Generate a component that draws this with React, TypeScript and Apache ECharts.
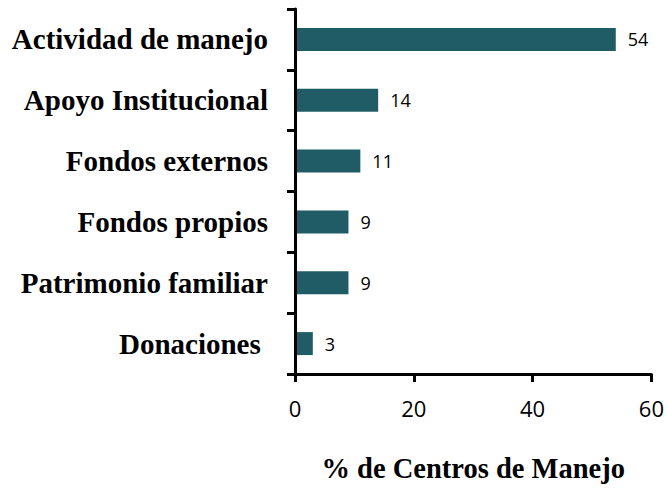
import React, { useEffect, useRef } from "react";
import * as echarts from "echarts";

const categories = [
  "Actividad de manejo",
  "Apoyo Institucional",
  "Fondos externos",
  "Fondos propios",
  "Patrimonio familiar",
  "Donaciones ",
];
const values = [54, 14, 11, 9, 9, 3];
const xTicks = [0, 20, 40, 60];
const xTitle = "% de Centros de Manejo";

export default function App() {
  const ref = useRef<HTMLDivElement>(null);
  useEffect(() => {
    const chart = echarts.init(ref.current!, null, { renderer: "svg" });
    chart.setOption({
      animation: false,
      backgroundColor: "#ffffff",
      grid: { left: 295, right: 15, top: 9, bottom: 106, containLabel: false },
      xAxis: {
        type: "value",
        min: xTicks[0],
        max: xTicks[xTicks.length - 1],
        interval: 20,
        splitLine: { show: false },
        axisLine: { show: true, lineStyle: { color: "#000", width: 3 } },
        axisTick: { show: true, length: 8, lineStyle: { color: "#000", width: 3 } },
        axisLabel: {
          color: "#000",
          fontFamily: "Open Sans",
          fontSize: 22,
          margin: 23,
        },
        name: xTitle,
        nameLocation: "middle",
        nameGap: 80,
        nameTextStyle: {
          color: "#000",
          fontFamily: "Liberation Serif",
          fontWeight: "bold",
          fontSize: 28.5,
        },
        z: 10,
      },
      yAxis: {
        type: "category",
        data: categories,
        inverse: true,
        axisLine: { show: true, lineStyle: { color: "#000", width: 3 } },
        axisTick: { show: true, length: 8, lineStyle: { color: "#000", width: 3 } },
        axisLabel: {
          color: "#000",
          fontFamily: "Liberation Serif",
          fontWeight: "bold",
          fontSize: 29,
          margin: 27,
        },
        z: 10,
      },
      series: [
        {
          type: "bar",
          data: values,
          barWidth: 23,
          itemStyle: { color: "#1f5c66" },
          label: {
            show: true,
            position: "right",
            distance: 12,
            color: "#000",
            fontFamily: "Open Sans",
            fontSize: 18,
          },
        },
      ],
    });
    return () => chart.dispose();
  }, []);
  return (
    <div
      ref={ref}
      style={{ position: "fixed", left: 0, top: 0, width: 667, height: 488 }}
    />
  );
}
